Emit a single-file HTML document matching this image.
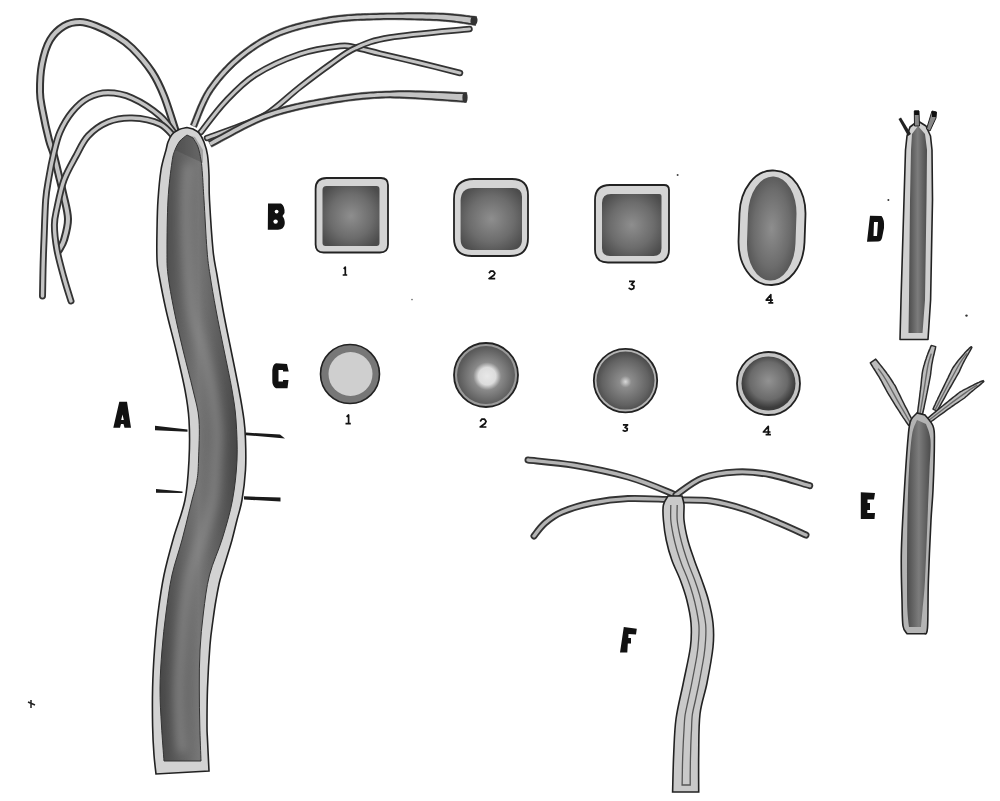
<!DOCTYPE html>
<html><head><meta charset="utf-8"><style>
html,body{margin:0;padding:0;background:#fff;width:1000px;height:801px;overflow:hidden;font-family:"Liberation Sans",sans-serif}
svg{display:block}
</style></head><body>
<svg width="1000" height="801" viewBox="0 0 1000 801">

<defs>
 <linearGradient id="gA" x1="0" y1="0" x2="1" y2="0">
  <stop offset="0" stop-color="#474747"/><stop offset="0.5" stop-color="#767676"/><stop offset="1" stop-color="#474747"/>
 </linearGradient>
 <radialGradient id="gB" cx="0.5" cy="0.5" r="0.62">
  <stop offset="0" stop-color="#8e8e8e"/><stop offset="0.6" stop-color="#6c6c6c"/><stop offset="1" stop-color="#4c4c4c"/>
 </radialGradient>
 <radialGradient id="gC2" cx="0.52" cy="0.52" r="0.5">
  <stop offset="0" stop-color="#e8e8e8"/><stop offset="0.3" stop-color="#dcdcdc"/><stop offset="0.48" stop-color="#8a8a8a"/><stop offset="1" stop-color="#5a5a5a"/>
 </radialGradient>
 <radialGradient id="gC3" cx="0.5" cy="0.52" r="0.5">
  <stop offset="0" stop-color="#d8d8d8"/><stop offset="0.2" stop-color="#8c8c8c"/><stop offset="0.8" stop-color="#626262"/><stop offset="1" stop-color="#4e4e4e"/>
 </radialGradient>
 <radialGradient id="gC4" cx="0.5" cy="0.45" r="0.5">
  <stop offset="0" stop-color="#929292"/><stop offset="0.7" stop-color="#6a6a6a"/><stop offset="1" stop-color="#3c3c3c"/>
 </radialGradient>
 <linearGradient id="gD" x1="0" y1="0" x2="1" y2="0">
  <stop offset="0" stop-color="#4c4c4c"/><stop offset="0.5" stop-color="#7c7c7c"/><stop offset="1" stop-color="#4c4c4c"/>
 </linearGradient>
 <filter id="blur4" x="-50%" y="-10%" width="200%" height="120%"><feGaussianBlur stdDeviation="4"/></filter>
</defs>

<rect width="1000" height="801" fill="#fff"/>
<path d="M176.0,132.0 C174.0,126.0 168.0,106.0 164.0,96.0 C160.0,86.0 157.3,80.0 152.0,72.0 C146.7,64.0 138.0,54.0 132.0,48.0 C126.0,42.0 122.0,39.7 116.0,36.0 C110.0,32.3 102.0,28.3 96.0,26.0 C90.0,23.7 85.3,22.0 80.0,22.0 C74.7,22.0 69.0,23.0 64.0,26.0 C59.0,29.0 53.7,33.7 50.0,40.0 C46.3,46.3 43.7,55.3 42.0,64.0 C40.3,72.7 39.9,84.3 40.0,92.0 C40.1,99.7 40.9,102.0 42.4,110.0 C43.9,118.0 47.1,132.7 49.0,140.0 C50.9,147.3 51.9,147.8 53.6,154.0 C55.3,160.2 57.6,170.2 59.2,177.0 C60.9,183.8 62.0,188.0 63.5,195.0 C65.0,202.0 67.9,211.5 68.0,219.0 C68.1,226.5 65.5,234.8 64.0,240.0 C62.5,245.2 59.8,248.3 59.0,250.0" fill="none" stroke="#333" stroke-width="8" stroke-linecap="round" stroke-linejoin="round"/>
<path d="M176.0,132.0 C174.0,126.0 168.0,106.0 164.0,96.0 C160.0,86.0 157.3,80.0 152.0,72.0 C146.7,64.0 138.0,54.0 132.0,48.0 C126.0,42.0 122.0,39.7 116.0,36.0 C110.0,32.3 102.0,28.3 96.0,26.0 C90.0,23.7 85.3,22.0 80.0,22.0 C74.7,22.0 69.0,23.0 64.0,26.0 C59.0,29.0 53.7,33.7 50.0,40.0 C46.3,46.3 43.7,55.3 42.0,64.0 C40.3,72.7 39.9,84.3 40.0,92.0 C40.1,99.7 40.9,102.0 42.4,110.0 C43.9,118.0 47.1,132.7 49.0,140.0 C50.9,147.3 51.9,147.8 53.6,154.0 C55.3,160.2 57.6,170.2 59.2,177.0 C60.9,183.8 62.0,188.0 63.5,195.0 C65.0,202.0 67.9,211.5 68.0,219.0 C68.1,226.5 65.5,234.8 64.0,240.0 C62.5,245.2 59.8,248.3 59.0,250.0" fill="none" stroke="#c4c4c4" stroke-width="4" stroke-linecap="round" stroke-linejoin="round"/>
<path d="M177.0,137.0 C174.2,133.5 167.5,122.5 160.0,116.0 C152.5,109.5 140.7,101.9 132.0,98.0 C123.3,94.1 115.3,92.8 108.0,92.8 C100.7,92.8 94.0,94.8 88.0,98.0 C82.0,101.2 76.7,106.3 72.0,112.0 C67.3,117.7 63.1,125.0 60.0,132.0 C56.9,139.0 55.4,146.5 53.6,154.0 C51.8,161.5 50.3,169.3 49.0,177.0 C47.7,184.7 46.5,189.5 45.7,200.0 C44.9,210.5 44.5,228.3 44.0,240.0 C43.5,251.7 43.2,260.7 43.0,270.0 C42.8,279.3 42.6,291.7 42.5,296.0" fill="none" stroke="#333" stroke-width="7" stroke-linecap="round" stroke-linejoin="round"/>
<path d="M177.0,137.0 C174.2,133.5 167.5,122.5 160.0,116.0 C152.5,109.5 140.7,101.9 132.0,98.0 C123.3,94.1 115.3,92.8 108.0,92.8 C100.7,92.8 94.0,94.8 88.0,98.0 C82.0,101.2 76.7,106.3 72.0,112.0 C67.3,117.7 63.1,125.0 60.0,132.0 C56.9,139.0 55.4,146.5 53.6,154.0 C51.8,161.5 50.3,169.3 49.0,177.0 C47.7,184.7 46.5,189.5 45.7,200.0 C44.9,210.5 44.5,228.3 44.0,240.0 C43.5,251.7 43.2,260.7 43.0,270.0 C42.8,279.3 42.6,291.7 42.5,296.0" fill="none" stroke="#c4c4c4" stroke-width="3.4" stroke-linecap="round" stroke-linejoin="round"/>
<path d="M176.0,139.0 C173.3,136.5 167.3,127.5 160.0,124.0 C152.7,120.5 140.7,118.3 132.0,118.0 C123.3,117.7 115.3,119.0 108.0,122.0 C100.7,125.0 93.3,130.3 88.0,136.0 C82.7,141.7 80.0,148.7 76.0,156.0 C72.0,163.3 67.2,171.3 64.0,180.0 C60.8,188.7 58.6,200.5 57.0,208.0 C55.4,215.5 54.4,218.0 54.4,225.0 C54.4,232.0 55.4,241.2 57.0,250.0 C58.6,258.8 61.7,269.5 64.0,278.0 C66.3,286.5 69.8,297.2 71.0,301.0" fill="none" stroke="#333" stroke-width="7" stroke-linecap="round" stroke-linejoin="round"/>
<path d="M176.0,139.0 C173.3,136.5 167.3,127.5 160.0,124.0 C152.7,120.5 140.7,118.3 132.0,118.0 C123.3,117.7 115.3,119.0 108.0,122.0 C100.7,125.0 93.3,130.3 88.0,136.0 C82.7,141.7 80.0,148.7 76.0,156.0 C72.0,163.3 67.2,171.3 64.0,180.0 C60.8,188.7 58.6,200.5 57.0,208.0 C55.4,215.5 54.4,218.0 54.4,225.0 C54.4,232.0 55.4,241.2 57.0,250.0 C58.6,258.8 61.7,269.5 64.0,278.0 C66.3,286.5 69.8,297.2 71.0,301.0" fill="none" stroke="#c4c4c4" stroke-width="3.4" stroke-linecap="round" stroke-linejoin="round"/>
<path d="M196.6,127.4 L197.2,126.1 L197.8,124.5 L198.5,122.7 L199.3,120.7 L200.2,118.5 L201.0,116.3 L202.0,113.8 L203.0,111.4 L204.1,108.8 L205.2,106.2 L206.4,103.7 L207.6,101.1 L208.8,98.7 L210.1,96.3 L211.5,94.0 L212.8,91.9 L214.3,89.8 L215.8,87.7 L217.4,85.6 L219.0,83.4 L220.7,81.3 L222.5,79.2 L224.3,77.1 L226.1,75.0 L228.0,73.0 L229.9,71.0 L231.9,69.0 L233.9,67.0 L235.9,65.1 L238.0,63.2 L240.1,61.4 L242.2,59.6 L244.3,57.9 L246.5,56.2 L248.6,54.5 L250.8,52.9 L253.1,51.2 L255.4,49.7 L257.7,48.1 L260.0,46.6 L262.4,45.2 L264.8,43.7 L267.3,42.4 L269.8,41.0 L272.3,39.7 L274.9,38.5 L277.6,37.3 L280.3,36.1 L283.1,35.0 L285.9,34.0 L288.9,33.0 L291.9,32.0 L295.0,31.1 L298.2,30.2 L301.4,29.3 L304.6,28.5 L307.9,27.8 L311.1,27.0 L314.4,26.3 L317.7,25.7 L321.0,25.0 L324.2,24.4 L327.4,23.9 L330.5,23.4 L333.6,22.9 L336.7,22.5 L339.7,22.1 L342.7,21.7 L345.7,21.5 L348.6,21.2 L351.6,21.0 L354.6,20.8 L357.7,20.6 L360.7,20.5 L363.8,20.4 L366.9,20.3 L370.1,20.2 L373.4,20.1 L376.7,20.0 L380.1,19.9 L383.6,19.8 L387.2,19.7 L391.0,19.7 L394.9,19.7 L398.8,19.8 L402.8,19.8 L406.8,19.9 L410.8,20.0 L414.8,20.1 L418.8,20.2 L422.6,20.3 L426.4,20.4 L430.0,20.5 L433.4,20.7 L436.7,20.8 L439.8,21.0 L442.7,21.2 L445.6,21.4 L448.4,21.7 L451.1,22.0 L453.8,22.3 L456.4,22.6 L458.8,22.9 L461.2,23.3 L463.5,23.6 L465.6,23.9 L467.6,24.2 L469.5,24.5 L471.2,24.8 L472.8,25.1 L474.2,25.3 L475.5,25.5 L476.5,16.5 L475.3,16.4 L474.0,16.3 L472.4,16.1 L470.7,15.9 L468.8,15.6 L466.8,15.4 L464.6,15.1 L462.3,14.8 L459.9,14.5 L457.3,14.2 L454.7,14.0 L451.9,13.7 L449.1,13.5 L446.2,13.3 L443.2,13.1 L440.2,13.0 L437.0,12.9 L433.7,12.8 L430.2,12.7 L426.5,12.7 L422.8,12.6 L418.9,12.6 L414.9,12.6 L410.9,12.6 L406.9,12.6 L402.8,12.7 L398.8,12.7 L394.8,12.9 L390.9,12.9 L387.1,12.9 L383.4,13.0 L379.9,13.1 L376.5,13.2 L373.2,13.3 L369.9,13.4 L366.7,13.5 L363.5,13.6 L360.4,13.7 L357.3,13.8 L354.2,14.0 L351.2,14.2 L348.1,14.4 L345.1,14.7 L342.0,15.0 L338.9,15.3 L335.8,15.7 L332.6,16.1 L329.5,16.6 L326.2,17.2 L323.0,17.7 L319.7,18.4 L316.4,19.0 L313.0,19.7 L309.7,20.4 L306.3,21.1 L303.0,21.9 L299.7,22.7 L296.4,23.6 L293.1,24.5 L289.9,25.5 L286.8,26.5 L283.7,27.6 L280.6,28.7 L277.7,29.9 L274.9,31.1 L272.1,32.3 L269.3,33.6 L266.6,35.0 L264.0,36.4 L261.4,37.8 L258.9,39.3 L256.4,40.9 L253.9,42.4 L251.5,44.0 L249.2,45.7 L246.8,47.4 L244.5,49.1 L242.3,50.8 L240.0,52.6 L237.8,54.4 L235.6,56.2 L233.5,58.1 L231.3,60.1 L229.2,62.1 L227.1,64.1 L225.1,66.2 L223.0,68.3 L221.1,70.5 L219.1,72.6 L217.3,74.8 L215.4,77.0 L213.7,79.2 L212.0,81.4 L210.3,83.7 L208.7,85.9 L207.2,88.1 L205.7,90.5 L204.2,92.9 L202.8,95.5 L201.5,98.1 L200.2,100.8 L199.0,103.5 L197.8,106.1 L196.7,108.8 L195.7,111.3 L194.7,113.8 L193.8,116.1 L193.0,118.2 L192.2,120.2 L191.5,121.9 L190.9,123.4 L190.4,124.6Z" fill="#333" stroke="#333" stroke-width="0.6" stroke-linejoin="round"/>
<path d="M195.1,126.7 L195.6,125.4 L196.3,123.8 L197.0,122.1 L197.7,120.1 L198.6,117.9 L199.5,115.6 L200.4,113.2 L201.4,110.7 L202.5,108.1 L203.7,105.6 L204.8,103.0 L206.1,100.4 L207.3,97.9 L208.7,95.4 L210.0,93.1 L211.4,90.9 L212.9,88.8 L214.4,86.7 L216.0,84.5 L217.7,82.4 L219.4,80.2 L221.2,78.1 L223.0,76.0 L224.9,73.9 L226.8,71.8 L228.7,69.8 L230.7,67.8 L232.7,65.8 L234.8,63.8 L236.9,61.9 L239.0,60.1 L241.1,58.3 L243.2,56.6 L245.4,54.8 L247.6,53.1 L249.8,51.5 L252.1,49.9 L254.4,48.3 L256.7,46.7 L259.1,45.2 L261.5,43.7 L263.9,42.3 L266.4,40.9 L269.0,39.5 L271.6,38.2 L274.2,37.0 L276.9,35.7 L279.6,34.6 L282.5,33.5 L285.4,32.4 L288.4,31.4 L291.4,30.4 L294.6,29.4 L297.7,28.5 L301.0,27.7 L304.2,26.9 L307.5,26.1 L310.8,25.4 L314.1,24.7 L317.4,24.0 L320.6,23.4 L323.9,22.8 L327.1,22.2 L330.3,21.7 L333.4,21.2 L336.5,20.8 L339.5,20.4 L342.5,20.1 L345.5,19.8 L348.5,19.5 L351.5,19.3 L354.5,19.1 L357.6,18.9 L360.6,18.8 L363.7,18.7 L366.9,18.6 L370.1,18.5 L373.3,18.4 L376.6,18.3 L380.0,18.2 L383.6,18.1 L387.2,18.0 L391.0,18.0 L394.9,18.0 L398.8,18.1 L402.8,18.1 L406.8,18.2 L410.9,18.3 L414.8,18.4 L418.8,18.5 L422.6,18.6 L426.4,18.7 L430.0,18.8 L433.5,19.0 L436.8,19.1 L439.9,19.3 L442.8,19.5 L445.7,19.7 L448.5,20.0 L451.3,20.3 L454.0,20.6 L456.5,20.9 L459.0,21.2 L461.4,21.6 L463.7,21.9 L465.8,22.2 L467.8,22.6 L469.7,22.9 L471.4,23.1 L473.0,23.4 L474.4,23.6 L475.7,23.8 L476.3,18.2 L475.1,18.1 L473.8,17.9 L472.2,17.8 L470.5,17.5 L468.6,17.3 L466.6,17.0 L464.4,16.8 L462.1,16.5 L459.7,16.2 L457.1,15.9 L454.5,15.7 L451.8,15.4 L449.0,15.2 L446.1,15.0 L443.1,14.8 L440.1,14.7 L437.0,14.6 L433.7,14.5 L430.2,14.4 L426.5,14.4 L422.7,14.3 L418.9,14.3 L414.9,14.3 L410.9,14.3 L406.9,14.3 L402.8,14.4 L398.8,14.4 L394.8,14.6 L391.0,14.6 L387.2,14.6 L383.5,14.7 L380.0,14.8 L376.6,14.9 L373.2,15.0 L370.0,15.1 L366.8,15.2 L363.6,15.3 L360.5,15.4 L357.4,15.5 L354.3,15.7 L351.3,15.9 L348.3,16.1 L345.2,16.4 L342.2,16.7 L339.1,17.0 L336.0,17.4 L332.9,17.8 L329.7,18.3 L326.5,18.9 L323.3,19.4 L320.0,20.0 L316.7,20.7 L313.4,21.3 L310.1,22.0 L306.7,22.8 L303.4,23.6 L300.1,24.4 L296.8,25.3 L293.6,26.2 L290.4,27.1 L287.3,28.1 L284.2,29.2 L281.3,30.3 L278.4,31.4 L275.5,32.6 L272.8,33.9 L270.1,35.2 L267.4,36.5 L264.8,37.9 L262.3,39.3 L259.7,40.8 L257.3,42.3 L254.9,43.9 L252.5,45.5 L250.1,47.1 L247.8,48.7 L245.6,50.4 L243.3,52.2 L241.1,53.9 L238.9,55.7 L236.7,57.5 L234.6,59.4 L232.5,61.3 L230.4,63.3 L228.3,65.3 L226.3,67.4 L224.3,69.5 L222.3,71.6 L220.4,73.8 L218.6,75.9 L216.8,78.1 L215.0,80.3 L213.3,82.5 L211.7,84.7 L210.1,86.9 L208.6,89.1 L207.1,91.3 L205.7,93.8 L204.3,96.3 L203.0,98.9 L201.8,101.5 L200.5,104.2 L199.4,106.8 L198.3,109.4 L197.3,111.9 L196.3,114.4 L195.4,116.7 L194.6,118.8 L193.8,120.8 L193.1,122.6 L192.5,124.1 L191.9,125.3Z" fill="#c4c4c4"/>
<path d="M201.0,132.0 C205.0,127.0 216.0,111.5 225.0,102.0 C234.0,92.5 242.5,83.0 255.0,75.0 C267.5,67.0 285.8,58.8 300.0,54.0 C314.2,49.2 330.8,47.1 340.0,46.0 C349.2,44.9 348.3,46.2 355.0,47.5 C361.7,48.8 369.2,51.0 380.0,53.6 C390.8,56.2 406.7,59.8 420.0,63.0 C433.3,66.2 453.3,71.3 460.0,73.0" fill="none" stroke="#333" stroke-width="6.5" stroke-linecap="round" stroke-linejoin="round"/>
<path d="M201.0,132.0 C205.0,127.0 216.0,111.5 225.0,102.0 C234.0,92.5 242.5,83.0 255.0,75.0 C267.5,67.0 285.8,58.8 300.0,54.0 C314.2,49.2 330.8,47.1 340.0,46.0 C349.2,44.9 348.3,46.2 355.0,47.5 C361.7,48.8 369.2,51.0 380.0,53.6 C390.8,56.2 406.7,59.8 420.0,63.0 C433.3,66.2 453.3,71.3 460.0,73.0" fill="none" stroke="#c4c4c4" stroke-width="3" stroke-linecap="round" stroke-linejoin="round"/>
<path d="M207.0,138.0 C212.5,136.0 230.0,130.0 240.0,126.0 C250.0,122.0 257.0,120.5 267.0,114.0 C277.0,107.5 289.5,95.2 300.0,87.0 C310.5,78.8 320.8,71.0 330.0,64.5 C339.2,58.0 345.5,52.5 355.5,48.0 C365.5,43.5 371.0,40.7 390.0,37.5 C409.0,34.3 456.2,30.4 469.5,29.0" fill="none" stroke="#333" stroke-width="6.5" stroke-linecap="round" stroke-linejoin="round"/>
<path d="M207.0,138.0 C212.5,136.0 230.0,130.0 240.0,126.0 C250.0,122.0 257.0,120.5 267.0,114.0 C277.0,107.5 289.5,95.2 300.0,87.0 C310.5,78.8 320.8,71.0 330.0,64.5 C339.2,58.0 345.5,52.5 355.5,48.0 C365.5,43.5 371.0,40.7 390.0,37.5 C409.0,34.3 456.2,30.4 469.5,29.0" fill="none" stroke="#c4c4c4" stroke-width="3" stroke-linecap="round" stroke-linejoin="round"/>
<path d="M211.6,147.1 L213.6,146.1 L216.0,144.8 L218.8,143.3 L221.8,141.6 L225.1,139.8 L228.6,137.9 L232.3,135.9 L236.2,133.8 L240.2,131.7 L244.3,129.6 L248.4,127.5 L252.5,125.5 L256.6,123.6 L260.6,121.8 L264.5,120.2 L268.2,118.8 L271.9,117.5 L275.7,116.3 L279.5,115.1 L283.3,114.0 L287.2,112.9 L291.2,111.9 L295.1,110.9 L299.1,110.0 L303.1,109.1 L307.0,108.3 L311.0,107.5 L315.0,106.7 L318.9,106.0 L322.8,105.3 L326.7,104.6 L330.6,104.0 L334.4,103.3 L338.1,102.7 L341.7,102.2 L345.3,101.6 L348.9,101.1 L352.4,100.7 L356.0,100.2 L359.5,99.9 L363.1,99.5 L366.7,99.2 L370.4,98.9 L374.1,98.6 L377.9,98.4 L381.9,98.3 L385.9,98.1 L390.1,98.0 L394.5,98.2 L399.3,98.3 L404.3,98.5 L409.6,98.8 L415.1,99.0 L420.7,99.3 L426.2,99.7 L431.8,100.0 L437.2,100.4 L442.4,100.8 L447.4,101.1 L452.1,101.5 L456.4,101.8 L460.2,102.1 L463.5,102.3 L466.3,102.5 L466.7,92.5 L464.0,92.5 L460.7,92.3 L456.9,92.2 L452.6,92.0 L448.0,91.8 L442.9,91.6 L437.7,91.4 L432.2,91.2 L426.6,91.0 L421.0,90.8 L415.4,90.7 L409.9,90.6 L404.5,90.6 L399.3,90.6 L394.5,90.7 L389.9,91.0 L385.7,91.1 L381.6,91.3 L377.6,91.4 L373.7,91.7 L369.9,91.9 L366.1,92.2 L362.4,92.5 L358.8,92.9 L355.2,93.3 L351.6,93.7 L348.0,94.2 L344.3,94.7 L340.7,95.2 L337.0,95.8 L333.2,96.4 L329.4,97.0 L325.5,97.7 L321.6,98.4 L317.7,99.1 L313.7,99.9 L309.7,100.6 L305.6,101.4 L301.6,102.3 L297.5,103.2 L293.5,104.1 L289.5,105.1 L285.4,106.1 L281.5,107.2 L277.5,108.4 L273.5,109.6 L269.7,110.9 L265.8,112.2 L261.9,113.7 L257.8,115.4 L253.7,117.2 L249.5,119.2 L245.3,121.2 L241.1,123.3 L237.0,125.5 L232.9,127.6 L229.0,129.7 L225.3,131.7 L221.7,133.7 L218.4,135.5 L215.4,137.2 L212.7,138.6 L210.4,139.9 L208.4,140.9Z" fill="#333" stroke="#333" stroke-width="0.6" stroke-linejoin="round"/>
<path d="M210.8,145.6 L212.8,144.6 L215.2,143.3 L217.9,141.8 L221.0,140.1 L224.3,138.3 L227.8,136.4 L231.5,134.4 L235.4,132.3 L239.4,130.2 L243.5,128.1 L247.6,126.0 L251.8,124.0 L255.9,122.1 L259.9,120.3 L263.8,118.6 L267.6,117.2 L271.4,115.9 L275.2,114.6 L279.0,113.4 L282.9,112.3 L286.8,111.3 L290.8,110.2 L294.7,109.3 L298.7,108.3 L302.7,107.5 L306.7,106.6 L310.7,105.8 L314.7,105.1 L318.6,104.3 L322.5,103.6 L326.4,102.9 L330.3,102.3 L334.1,101.6 L337.8,101.0 L341.5,100.5 L345.1,99.9 L348.7,99.4 L352.2,99.0 L355.8,98.6 L359.3,98.2 L362.9,97.8 L366.6,97.5 L370.3,97.2 L374.0,97.0 L377.9,96.7 L381.8,96.6 L385.9,96.4 L390.0,96.3 L394.5,96.5 L399.3,96.6 L404.4,96.8 L409.7,97.1 L415.2,97.3 L420.7,97.7 L426.3,98.0 L431.9,98.3 L437.3,98.7 L442.5,99.1 L447.5,99.4 L452.2,99.8 L456.5,100.1 L460.3,100.4 L463.6,100.6 L466.4,100.8 L466.6,94.2 L463.9,94.1 L460.7,94.0 L456.8,93.9 L452.5,93.7 L447.9,93.5 L442.9,93.3 L437.6,93.1 L432.1,92.9 L426.6,92.7 L420.9,92.5 L415.3,92.4 L409.8,92.3 L404.5,92.3 L399.3,92.3 L394.5,92.4 L390.0,92.7 L385.7,92.8 L381.7,93.0 L377.7,93.1 L373.8,93.4 L370.0,93.6 L366.3,93.9 L362.6,94.2 L359.0,94.6 L355.4,95.0 L351.8,95.4 L348.2,95.9 L344.6,96.4 L340.9,96.9 L337.2,97.5 L333.5,98.1 L329.7,98.7 L325.8,99.4 L321.9,100.1 L318.0,100.8 L314.0,101.5 L310.0,102.3 L306.0,103.1 L301.9,104.0 L297.9,104.8 L293.9,105.8 L289.9,106.7 L285.9,107.8 L281.9,108.9 L278.0,110.0 L274.1,111.2 L270.2,112.5 L266.4,113.8 L262.5,115.3 L258.5,117.0 L254.4,118.8 L250.2,120.7 L246.0,122.8 L241.9,124.8 L237.7,127.0 L233.7,129.1 L229.8,131.2 L226.1,133.2 L222.5,135.2 L219.2,137.0 L216.2,138.6 L213.5,140.1 L211.1,141.4 L209.2,142.4Z" fill="#c4c4c4"/>
<ellipse cx="474" cy="20.6" rx="3.5" ry="4.5" transform="rotate(8 474 20.6)" fill="#333"/>
<ellipse cx="465" cy="97.6" rx="2.6" ry="5" fill="#333"/>
<path d="M187.0,127.5 C185.7,127.8 181.5,128.3 179.0,129.5 C176.5,130.7 173.8,132.4 172.0,134.5 C170.2,136.6 169.0,139.4 168.0,142.0 C167.0,144.6 167.2,145.3 166.0,150.0 C164.8,154.7 162.3,161.7 161.0,170.0 C159.7,178.3 158.7,190.0 158.0,200.0 C157.3,210.0 157.2,220.0 157.0,230.0 C156.8,240.0 156.7,252.5 157.0,260.0 C157.3,267.5 157.5,266.7 159.0,275.0 C160.5,283.3 163.2,297.5 166.0,310.0 C168.8,322.5 172.8,336.7 176.0,350.0 C179.2,363.3 182.8,378.3 185.0,390.0 C187.2,401.7 188.3,408.3 189.0,420.0 C189.7,431.7 189.7,446.7 189.0,460.0 C188.3,473.3 187.6,487.0 185.0,500.0 C182.4,513.0 177.0,525.5 173.5,538.0 C170.0,550.5 166.6,562.5 164.0,575.0 C161.4,587.5 159.6,600.5 158.0,613.0 C156.4,625.5 155.4,637.5 154.5,650.0 C153.6,662.5 152.9,675.3 152.6,688.0 C152.3,700.7 152.4,714.8 152.6,726.0 C152.8,737.2 153.4,747.0 154.0,755.0 C154.6,763.0 155.7,770.8 156.0,774.0 L209.0,771.0 C208.8,765.8 207.8,747.5 207.5,740.0 C207.2,732.5 207.0,734.7 207.0,726.0 C207.0,717.3 207.0,701.5 207.5,688.0 C208.0,674.5 209.1,656.3 210.0,645.0 C210.9,633.7 212.0,627.5 213.0,620.0 C214.0,612.5 214.8,606.7 216.0,600.0 C217.2,593.3 218.3,586.7 220.0,580.0 C221.7,573.3 224.0,566.7 226.0,560.0 C228.0,553.3 230.2,546.7 232.0,540.0 C233.8,533.3 235.3,526.7 237.0,520.0 C238.7,513.3 240.6,508.3 242.0,500.0 C243.4,491.7 244.9,480.0 245.5,470.0 C246.1,460.0 245.8,448.3 245.5,440.0 C245.2,431.7 245.1,428.3 244.0,420.0 C242.9,411.7 241.2,401.7 239.0,390.0 C236.8,378.3 233.7,363.3 231.0,350.0 C228.3,336.7 225.3,322.5 223.0,310.0 C220.7,297.5 218.7,285.0 217.0,275.0 C215.3,265.0 214.2,262.5 213.0,250.0 C211.8,237.5 210.2,212.5 209.5,200.0 C208.8,187.5 209.3,182.5 209.0,175.0 C208.7,167.5 208.3,160.5 207.5,155.0 C206.7,149.5 205.4,145.7 204.0,142.0 C202.6,138.3 200.8,135.2 199.0,133.0 C197.2,130.8 194.0,129.7 193.0,129.0Z" fill="#d2d2d2" stroke="#222" stroke-width="1.6"/>
<path d="M187.0,135.0 C185.8,136.0 182.0,138.5 180.0,141.0 C178.0,143.5 176.3,146.5 175.0,150.0 C173.7,153.5 173.2,153.7 172.0,162.0 C170.8,170.3 168.8,185.3 168.0,200.0 C167.2,214.7 167.0,237.5 167.0,250.0 C167.0,262.5 166.8,265.0 168.0,275.0 C169.2,285.0 171.5,297.5 174.0,310.0 C176.5,322.5 179.8,336.7 183.0,350.0 C186.2,363.3 190.3,378.3 193.0,390.0 C195.7,401.7 198.1,408.3 199.0,420.0 C199.9,431.7 198.8,450.0 198.5,460.0 C198.2,470.0 198.1,473.3 197.0,480.0 C195.9,486.7 194.5,490.0 192.0,500.0 C189.5,510.0 185.3,527.5 182.0,540.0 C178.7,552.5 174.7,562.8 172.0,575.0 C169.3,587.2 167.7,600.5 166.0,613.0 C164.3,625.5 163.0,637.5 162.0,650.0 C161.0,662.5 160.1,675.3 160.0,688.0 C159.9,700.7 160.8,713.8 161.5,726.0 C162.2,738.2 163.6,755.2 164.0,761.0 L201.0,761.0 C200.8,755.2 200.1,738.2 199.8,726.0 C199.5,713.8 199.3,700.7 199.3,688.0 C199.3,675.3 199.3,662.5 200.0,650.0 C200.7,637.5 201.8,625.5 203.4,613.0 C205.0,600.5 206.3,587.5 209.5,575.0 C212.7,562.5 218.7,550.5 222.5,538.0 C226.3,525.5 230.1,513.0 232.5,500.0 C234.9,487.0 236.4,473.3 237.0,460.0 C237.6,446.7 236.8,431.7 236.0,420.0 C235.2,408.3 234.0,401.7 232.0,390.0 C230.0,378.3 226.7,363.3 224.0,350.0 C221.3,336.7 218.3,322.5 216.0,310.0 C213.7,297.5 211.5,285.0 210.0,275.0 C208.5,265.0 208.0,262.5 207.0,250.0 C206.0,237.5 204.8,212.5 204.0,200.0 C203.2,187.5 203.0,181.7 202.5,175.0 C202.0,168.3 201.8,164.7 201.0,160.0 C200.2,155.3 199.3,150.7 198.0,147.0 C196.7,143.3 193.8,139.5 193.0,138.0Z" fill="url(#gA)" stroke="#333" stroke-width="1"/>
<path d="M188.0,168.0 C187.7,173.3 186.2,186.3 186.0,200.0 C185.8,213.7 186.0,231.7 187.0,250.0 C188.0,268.3 189.3,293.3 192.0,310.0 C194.7,326.7 199.7,336.7 203.0,350.0 C206.3,363.3 209.7,376.7 212.0,390.0 C214.3,403.3 216.3,418.3 217.0,430.0 C217.7,441.7 216.7,448.3 216.0,460.0 C215.3,471.7 215.3,487.0 213.0,500.0 C210.7,513.0 205.8,525.5 202.0,538.0 C198.2,550.5 193.0,562.5 190.0,575.0 C187.0,587.5 185.5,600.5 184.0,613.0 C182.5,625.5 181.8,637.5 181.0,650.0 C180.2,662.5 179.2,675.3 179.0,688.0 C178.8,700.7 179.5,716.0 180.0,726.0 C180.5,736.0 181.7,744.3 182.0,748.0" fill="none" stroke="#909090" stroke-width="10" stroke-linecap="round" filter="url(#blur4)" opacity="0.6"/>
<path d="M175,150 L203,163 L203,150 L195,137 L187,135 L179,141 Z" fill="#3c3c3c" opacity="0.3"/>
<path d="M155,425.8 L187.5,429.6 L187.5,431.8 L155,430.2 Z" fill="#1a1a1a"/>
<path d="M246,432.6 L280,434.6 L285,438.4 L246,435.2 Z" fill="#1a1a1a"/>
<path d="M156,489 L182.5,491.6 L182.5,493 L156,492.8 Z" fill="#1a1a1a"/>
<path d="M244,496.3 L280.5,497.5 L280.5,501.5 L244,499.5 Z" fill="#1a1a1a"/>
<path d="M326.6,178 L381,178 Q388,178 388,185 L388,244.5 Q388,252.5 380,252.5 L323.6,252.5 Q315.6,252.5 315.6,244.5 L315.6,189 Q315.6,178 326.6,178Z" fill="#d4d4d4" stroke="#222" stroke-width="1.8"/>
<path d="M326.5,186 L376.5,186 Q379.5,186 379.5,189 L379.5,243 Q379.5,246 376.5,246 L325.5,246 Q322.5,246 322.5,243 L322.5,190 Q322.5,186 326.5,186Z" fill="url(#gB)"/>
<path d="M474,179 L512,179 Q528,179 528,195 L528,238 Q528,256 510,256 L472,256 Q454,256 454,238 L454,199 Q454,179 474,179Z" fill="#d4d4d4" stroke="#222" stroke-width="1.8"/>
<path d="M473.6,188 L513,188 Q522,188 522,197 L522,239 Q522,250 511,250 L471.6,250 Q460.6,250 460.6,239 L460.6,201 Q460.6,188 473.6,188Z" fill="url(#gB)"/>
<path d="M610,185 L664,185 Q669,185 669,190 L669,249.5 Q669,262.5 656,262.5 L608,262.5 Q595,262.5 595,249.5 L595,200 Q595,185 610,185Z" fill="#d4d4d4" stroke="#222" stroke-width="1.8"/>
<path d="M611,194 L659.5,194 Q661.5,194 661.5,196 L661.5,248 Q661.5,256 653.5,256 L610,256 Q602,256 602,248 L602,203 Q602,194 611,194Z" fill="url(#gB)"/>
<rect x="739" y="170.5" width="66" height="114.5" rx="32" ry="44" transform="rotate(2 772 228)" fill="#d4d4d4" stroke="#222" stroke-width="1.8"/>
<rect x="747.5" y="176.5" width="48.5" height="104" rx="24" ry="38" transform="rotate(2 772 228)" fill="url(#gB)"/>
<circle cx="350" cy="374" r="29.5" fill="#777" stroke="#222" stroke-width="1.6"/>
<circle cx="350.5" cy="374" r="22" fill="#cfcfcf"/>
<circle cx="486" cy="375" r="32" fill="#9a9a9a" stroke="#222" stroke-width="1.8"/>
<circle cx="486" cy="375" r="29" fill="url(#gC2)"/>
<circle cx="625.5" cy="380.6" r="31.7" fill="#b4b4b4" stroke="#222" stroke-width="1.8"/>
<circle cx="625.5" cy="380.6" r="29" fill="url(#gC3)"/>
<circle cx="768.5" cy="383.5" r="31.5" fill="#c4c4c4" stroke="#222" stroke-width="1.8"/>
<circle cx="768.5" cy="383.5" r="27" fill="url(#gC4)"/>
<path d="M910.0,127.0 L907.0,136.0 L905.5,150.0 L904.0,200.0 L901.0,300.0 L900.0,339.5 L928.0,339.5 L930.6,300.0 L932.5,200.0 L932.0,150.0 L930.5,136.0 L926.0,126.0 L918.0,121.0Z" fill="#d0d0d0" stroke="#222" stroke-width="1.6" stroke-linejoin="round"/>
<path d="M918.0,126.0 L912.0,134.0 L911.0,150.0 L910.0,200.0 L909.0,300.0 L908.5,333.0 L922.5,333.0 L925.0,300.0 L926.5,200.0 L927.0,150.0 L925.0,134.0Z" fill="url(#gD)"/>
<path d="M898.5,119 L901,117.5 L911,134 L908,136 Z" fill="#222"/>
<path d="M914.3,111 L919,111 L919.5,126 L914.5,126 Z" fill="#888" stroke="#222" stroke-width="1"/>
<path d="M914.3,110.5 L919,110.5 L919,115 L914.3,115 Z" fill="#111"/>
<path d="M932,111 L936.5,112 L936,118 L930,131 L926.5,129 Z" fill="#888" stroke="#222" stroke-width="1"/>
<path d="M932,111 L936.5,112 L936,117 L932,117 Z" fill="#111"/>
<path d="M913.4,422.6 L913.0,421.7 L912.4,420.5 L911.8,419.2 L911.0,417.7 L910.2,416.1 L909.3,414.3 L908.4,412.5 L907.5,410.6 L906.5,408.7 L905.5,406.8 L904.5,404.9 L903.6,403.0 L902.6,401.0 L901.6,399.0 L900.6,396.9 L899.5,394.7 L898.4,392.5 L897.3,390.2 L896.2,387.9 L895.1,385.7 L893.7,383.6 L892.4,381.5 L891.1,379.5 L889.9,377.6 L888.6,375.8 L887.2,373.9 L885.9,372.0 L884.5,370.2 L883.1,368.4 L881.8,366.7 L880.5,365.1 L879.3,363.6 L878.2,362.2 L877.2,361.0 L876.4,360.0 L875.7,359.1 L870.3,362.9 L870.9,363.8 L871.6,365.0 L872.4,366.3 L873.3,367.8 L874.4,369.5 L875.4,371.2 L876.6,373.0 L877.7,374.8 L878.9,376.7 L880.0,378.6 L881.1,380.5 L882.1,382.4 L883.1,384.3 L884.2,386.3 L885.3,388.4 L886.4,390.5 L887.6,392.7 L888.9,394.8 L890.2,396.9 L891.5,399.1 L892.8,401.2 L894.0,403.2 L895.2,405.2 L896.4,407.0 L897.6,408.8 L898.8,410.7 L900.0,412.5 L901.1,414.3 L902.3,416.1 L903.4,417.8 L904.5,419.4 L905.5,420.9 L906.4,422.3 L907.3,423.5 L908.0,424.5 L908.6,425.4Z" fill="#bcbcbc" stroke="#2a2a2a" stroke-width="1.5" stroke-linejoin="round"/>
<path d="M911.0,424.0 C909.2,420.8 904.2,412.3 900.0,405.0 C895.8,397.7 889.6,386.1 886.0,380.0 C882.4,373.9 879.5,370.5 878.2,368.6" fill="none" stroke="#6a6a6a" stroke-width="1.4"/>
<path d="M922.5,414.4 L922.7,413.3 L923.1,411.8 L923.4,410.2 L923.9,408.3 L924.3,406.2 L924.7,404.1 L925.2,401.8 L925.7,399.5 L926.2,397.2 L926.6,394.9 L927.1,392.7 L927.5,390.6 L927.9,388.5 L928.3,386.4 L928.8,384.2 L929.2,382.1 L929.6,379.9 L930.0,377.8 L930.4,375.7 L930.7,373.6 L930.9,371.5 L931.2,369.5 L931.4,367.6 L931.6,365.8 L931.9,364.0 L932.3,362.1 L932.6,360.3 L933.0,358.4 L933.4,356.6 L933.9,354.8 L934.3,353.1 L934.6,351.5 L935.0,350.1 L935.3,348.8 L935.5,347.6 L935.7,346.6 L931.3,345.4 L931.0,346.2 L930.5,347.2 L930.0,348.5 L929.4,349.9 L928.8,351.4 L928.1,353.1 L927.5,354.8 L926.8,356.6 L926.2,358.5 L925.5,360.4 L924.9,362.3 L924.4,364.2 L923.8,366.1 L923.3,368.1 L922.8,370.2 L922.4,372.3 L922.1,374.4 L921.9,376.6 L921.6,378.8 L921.4,381.0 L921.2,383.1 L921.0,385.3 L920.7,387.4 L920.5,389.4 L920.2,391.5 L919.9,393.8 L919.7,396.1 L919.4,398.4 L919.1,400.8 L918.8,403.1 L918.5,405.3 L918.2,407.3 L918.0,409.3 L917.8,411.0 L917.6,412.4 L917.5,413.6Z" fill="#bcbcbc" stroke="#2a2a2a" stroke-width="1.5" stroke-linejoin="round"/>
<path d="M920.0,414.0 C920.7,410.0 922.7,398.2 924.0,390.0 C925.3,381.8 926.8,371.1 928.0,365.0 C929.2,358.9 930.8,355.5 931.3,353.6" fill="none" stroke="#6a6a6a" stroke-width="1.4"/>
<path d="M937.0,411.0 L937.7,409.9 L938.6,408.3 L939.6,406.6 L940.7,404.6 L941.9,402.4 L943.2,400.1 L944.5,397.8 L945.8,395.4 L947.1,393.0 L948.4,390.7 L949.6,388.5 L950.8,386.5 L951.9,384.6 L953.0,382.6 L954.1,380.7 L955.2,378.8 L956.2,377.0 L957.3,375.1 L958.3,373.3 L959.3,371.6 L960.1,369.7 L960.9,367.9 L961.7,366.2 L962.5,364.5 L963.3,362.9 L964.2,361.2 L965.1,359.5 L966.0,357.9 L966.9,356.2 L967.9,354.6 L968.7,353.1 L969.6,351.7 L970.3,350.4 L971.0,349.2 L971.5,348.2 L971.9,347.3 L971.1,346.7 L970.4,347.3 L969.5,348.1 L968.6,349.1 L967.5,350.1 L966.3,351.3 L965.1,352.6 L963.9,354.0 L962.6,355.4 L961.3,356.9 L960.0,358.4 L958.7,359.9 L957.5,361.5 L956.4,363.0 L955.2,364.6 L954.0,366.3 L952.8,368.0 L951.8,369.8 L950.9,371.7 L950.0,373.7 L949.0,375.6 L948.1,377.6 L947.1,379.6 L946.2,381.5 L945.2,383.5 L944.2,385.6 L943.1,387.9 L941.9,390.3 L940.7,392.7 L939.5,395.2 L938.3,397.6 L937.2,400.0 L936.1,402.2 L935.2,404.3 L934.3,406.1 L933.6,407.7 L933.0,409.0Z" fill="#bcbcbc" stroke="#2a2a2a" stroke-width="1.5" stroke-linejoin="round"/>
<path d="M935.0,410.0 C937.2,405.8 943.8,392.8 948.0,385.0 C952.2,377.2 956.9,368.3 960.0,363.0 C963.1,357.7 965.8,355.0 966.9,353.4" fill="none" stroke="#6a6a6a" stroke-width="1.4"/>
<path d="M929.4,422.8 L930.5,422.0 L931.9,421.0 L933.6,419.8 L935.4,418.5 L937.4,417.0 L939.5,415.4 L941.7,413.9 L943.9,412.3 L946.1,410.7 L948.1,409.2 L950.1,407.8 L951.9,406.5 L953.6,405.4 L955.2,404.2 L956.9,403.1 L958.4,402.1 L960.0,401.0 L961.5,400.0 L963.0,399.0 L964.5,398.0 L965.8,396.8 L967.1,395.7 L968.4,394.5 L969.6,393.4 L970.9,392.3 L972.3,391.1 L973.7,390.0 L975.1,388.8 L976.4,387.7 L977.8,386.6 L979.1,385.6 L980.3,384.6 L981.4,383.7 L982.3,382.8 L983.1,382.1 L983.8,381.4 L983.2,380.6 L982.4,380.9 L981.4,381.3 L980.2,381.8 L978.9,382.4 L977.5,383.0 L976.0,383.7 L974.4,384.5 L972.8,385.3 L971.2,386.1 L969.5,387.0 L967.9,387.8 L966.4,388.6 L964.8,389.4 L963.3,390.2 L961.7,391.1 L960.2,391.9 L958.7,393.0 L957.3,394.1 L955.8,395.3 L954.3,396.5 L952.8,397.7 L951.3,398.9 L949.7,400.2 L948.1,401.5 L946.4,402.9 L944.5,404.4 L942.5,406.0 L940.4,407.7 L938.3,409.5 L936.2,411.2 L934.2,412.8 L932.3,414.4 L930.5,415.9 L929.0,417.2 L927.6,418.3 L926.6,419.2Z" fill="#bcbcbc" stroke="#2a2a2a" stroke-width="1.5" stroke-linejoin="round"/>
<path d="M928.0,421.0 C931.7,418.2 943.3,409.0 950.0,404.0 C956.7,399.0 963.5,394.2 968.0,391.0 C972.5,387.8 975.8,386.0 977.3,385.0" fill="none" stroke="#6a6a6a" stroke-width="1.4"/>
<path d="M917.0,413.0 C916.0,414.2 912.4,416.7 911.0,420.0 C909.6,423.3 909.5,423.0 908.5,433.0 C907.5,443.0 906.2,460.5 905.0,480.0 C903.8,499.5 901.9,530.0 901.4,550.0 C900.9,570.0 901.7,587.3 902.0,600.0 C902.3,612.7 902.2,620.4 903.0,626.0 C903.8,631.6 906.3,632.4 907.0,633.7 L924.0,633.7 C924.6,632.8 926.8,637.0 927.5,628.0 C928.2,619.0 927.8,598.0 928.4,580.0 C929.0,562.0 930.2,535.0 931.0,520.0 C931.8,505.0 932.4,503.3 933.0,490.0 C933.6,476.7 934.4,450.7 934.4,440.0 C934.4,429.3 934.6,430.2 933.0,426.0 C931.4,421.8 926.3,416.8 925.0,415.0Z" fill="#b4b4b4" stroke="#222" stroke-width="1.6"/>
<path d="M917.0,420.0 C916.2,422.5 913.3,426.7 912.0,435.0 C910.7,443.3 909.8,455.8 909.0,470.0 C908.2,484.2 907.7,501.7 907.4,520.0 C907.1,538.3 907.0,565.0 907.0,580.0 C907.0,595.0 907.1,602.2 907.4,610.0 C907.7,617.8 908.7,624.2 909.0,627.0 L921.0,627.0 C921.2,624.2 921.8,617.8 922.5,610.0 C923.2,602.2 924.2,595.0 925.0,580.0 C925.8,565.0 926.8,538.3 927.5,520.0 C928.2,501.7 929.0,483.3 929.5,470.0 C930.0,456.7 931.1,447.7 930.5,440.0 C929.9,432.3 926.8,426.7 926.0,424.0Z" fill="url(#gD)"/>
<path d="M528.0,460.0 C535.7,460.9 557.3,462.5 574.0,465.3 C590.7,468.1 611.8,472.4 628.0,477.0 C644.2,481.6 663.0,489.7 671.0,493.0 C679.0,496.3 675.2,496.3 676.0,497.0" fill="none" stroke="#333" stroke-width="7" stroke-linecap="round" stroke-linejoin="round"/>
<path d="M528.0,460.0 C535.7,460.9 557.3,462.5 574.0,465.3 C590.7,468.1 611.8,472.4 628.0,477.0 C644.2,481.6 663.0,489.7 671.0,493.0 C679.0,496.3 675.2,496.3 676.0,497.0" fill="none" stroke="#b4b4b4" stroke-width="3.4" stroke-linecap="round" stroke-linejoin="round"/>
<path d="M534.0,536.0 C535.8,533.8 540.3,527.0 545.0,523.0 C549.7,519.0 554.2,515.3 562.0,512.0 C569.8,508.7 581.0,505.2 592.0,503.0 C603.0,500.8 615.1,499.2 628.0,498.6 C640.9,498.0 661.4,499.4 669.4,499.5 C677.4,499.6 674.9,499.1 676.0,499.0" fill="none" stroke="#333" stroke-width="7" stroke-linecap="round" stroke-linejoin="round"/>
<path d="M534.0,536.0 C535.8,533.8 540.3,527.0 545.0,523.0 C549.7,519.0 554.2,515.3 562.0,512.0 C569.8,508.7 581.0,505.2 592.0,503.0 C603.0,500.8 615.1,499.2 628.0,498.6 C640.9,498.0 661.4,499.4 669.4,499.5 C677.4,499.6 674.9,499.1 676.0,499.0" fill="none" stroke="#b4b4b4" stroke-width="3.4" stroke-linecap="round" stroke-linejoin="round"/>
<path d="M676.0,495.0 C680.4,492.2 692.4,481.8 702.5,478.0 C712.6,474.2 725.2,472.6 736.5,472.0 C747.8,471.4 758.3,472.4 770.5,474.7 C782.7,477.0 803.2,483.9 809.7,485.7" fill="none" stroke="#333" stroke-width="7" stroke-linecap="round" stroke-linejoin="round"/>
<path d="M676.0,495.0 C680.4,492.2 692.4,481.8 702.5,478.0 C712.6,474.2 725.2,472.6 736.5,472.0 C747.8,471.4 758.3,472.4 770.5,474.7 C782.7,477.0 803.2,483.9 809.7,485.7" fill="none" stroke="#b4b4b4" stroke-width="3.4" stroke-linecap="round" stroke-linejoin="round"/>
<path d="M678.0,500.0 C683.5,500.2 699.8,499.4 711.0,501.0 C722.2,502.6 733.7,505.8 745.0,509.5 C756.3,513.2 768.8,518.8 779.0,523.0 C789.2,527.2 801.5,533.0 806.0,535.0" fill="none" stroke="#333" stroke-width="7" stroke-linecap="round" stroke-linejoin="round"/>
<path d="M678.0,500.0 C683.5,500.2 699.8,499.4 711.0,501.0 C722.2,502.6 733.7,505.8 745.0,509.5 C756.3,513.2 768.8,518.8 779.0,523.0 C789.2,527.2 801.5,533.0 806.0,535.0" fill="none" stroke="#b4b4b4" stroke-width="3.4" stroke-linecap="round" stroke-linejoin="round"/>
<path d="M668.0,496.0 C667.2,497.5 664.2,501.0 663.4,505.0 C662.6,509.0 662.9,514.2 663.4,520.0 C663.9,525.8 664.8,533.3 666.2,540.0 C667.6,546.7 669.4,553.3 671.8,560.0 C674.1,566.7 677.8,573.3 680.3,580.0 C682.8,586.7 685.0,592.8 686.8,600.0 C688.6,607.2 690.4,615.2 691.0,623.0 C691.6,630.8 691.7,637.0 690.4,647.0 C689.1,657.0 685.7,671.0 683.3,683.0 C680.9,695.0 677.6,707.2 676.0,719.0 C674.4,730.8 674.3,741.8 673.7,754.0 C673.1,766.2 672.8,785.7 672.6,792.0 L698.7,792.0 C698.7,785.7 698.5,767.0 698.7,754.0 C698.9,741.0 698.6,725.8 700.0,714.0 C701.4,702.2 704.8,694.2 707.0,683.0 C709.2,671.8 712.0,657.0 713.0,647.0 C714.0,637.0 713.8,630.8 713.0,623.0 C712.2,615.2 710.3,607.2 708.4,600.0 C706.5,592.8 704.1,586.7 701.8,580.0 C699.4,573.3 696.6,566.7 694.3,560.0 C692.0,553.3 689.5,546.7 687.8,540.0 C686.1,533.3 684.6,525.8 684.0,520.0 C683.4,514.2 684.3,509.0 684.0,505.0 C683.7,501.0 682.3,497.5 682.0,496.0Z" fill="#c9c9c9" stroke="#222" stroke-width="1.6"/>
<path d="M670.8,505.0 C670.8,507.5 670.4,515.0 670.8,520.0 C671.2,525.0 672.2,530.0 673.2,535.0 C674.2,540.0 675.5,545.0 676.9,550.0 C678.4,555.0 680.1,560.0 681.9,565.0 C683.8,570.0 686.2,575.0 688.0,580.0 C689.9,585.0 691.5,590.0 692.9,595.0 C694.3,600.0 695.5,605.0 696.5,610.0 C697.5,615.0 698.5,620.0 698.9,625.0 C699.3,630.0 699.0,635.0 698.6,640.0 C698.3,645.0 697.8,650.0 697.0,655.0 C696.3,660.0 695.2,665.0 694.3,670.0 C693.3,675.0 692.4,680.0 691.4,685.0 C690.4,690.0 689.3,695.0 688.2,700.0 C687.2,705.0 685.9,710.0 685.1,715.0 C684.4,720.0 684.3,725.0 684.0,730.0 C683.7,735.0 683.4,740.0 683.2,745.0 C683.0,750.0 682.7,755.0 682.6,760.0 C682.4,765.0 682.4,770.8 682.3,775.0 C682.2,779.2 682.2,783.3 682.1,785.0 L690.2,785.0 C690.2,783.3 690.2,779.2 690.2,775.0 C690.3,770.8 690.3,765.0 690.4,760.0 C690.5,755.0 690.7,750.0 690.8,745.0 C691.0,740.0 691.2,735.0 691.5,730.0 C691.7,725.0 691.7,720.0 692.3,715.0 C693.0,710.0 694.4,705.0 695.5,700.0 C696.5,695.0 697.7,690.0 698.7,685.0 C699.7,680.0 700.6,675.0 701.5,670.0 C702.4,665.0 703.4,660.0 704.1,655.0 C704.8,650.0 705.3,645.0 705.6,640.0 C705.9,635.0 706.1,630.0 705.7,625.0 C705.3,620.0 704.2,615.0 703.2,610.0 C702.2,605.0 701.0,600.0 699.6,595.0 C698.2,590.0 696.5,585.0 694.7,580.0 C692.9,575.0 690.7,570.0 688.8,565.0 C687.0,560.0 685.3,555.0 683.8,550.0 C682.3,545.0 680.9,540.0 679.8,535.0 C678.7,530.0 677.6,525.0 677.2,520.0 C676.8,515.0 677.2,507.5 677.2,505.0" fill="none" stroke="#555" stroke-width="1.3"/>
<path d="M119.3,401.8 L127,401.8 L131,427.8 L124.5,427.8 L123.5,424 L121,424 L120,427.8 L113.3,427.8 Z M122.5,414.5 L121.2,420 L123.8,420 Z" fill="#111" fill-rule="evenodd"/>
<path d="M268,203.5 L281,203.5 Q285,206 284.5,213 L282.5,216 Q285,219 284.7,224 Q284,229.7 278,229.7 L267.8,229.7 Z" fill="#111"/>
<circle cx="276.6" cy="211.6" r="1.9" fill="#fff"/><circle cx="275.6" cy="221.6" r="2.2" fill="#fff"/>
<path d="M276,363.3 L287,364 L288.7,371.5 L283,371.5 L283,370 L278.5,370 L278.5,381.5 L283,381.5 L283,380 L288.5,380 L287.5,388.3 L276,388.3 Q272,386 272.3,380 L272.3,370 Q273,364 276,363.3 Z" fill="#111"/>
<path d="M870,215.8 L881.5,216 Q884.5,219 884,228 L882,238 Q881,241.5 878,241.6 L867,241.8 Z M874,222 L878,222 L877,236 L873.5,236 Z" fill="#111" fill-rule="evenodd"/>
<path d="M860.8,492.3 L875,493 L874,499.5 L867.5,499.5 L867.5,503 L870,503 L870,510 L867.3,510 L867.3,513 L875,513 L874.5,519 L860.8,519 Z" fill="#111"/>
<path d="M623.8,627 L636.8,628.8 L636,634.5 L628.5,634 L628.3,638 L631,638 L631,643.5 L627.8,643.5 L627.3,652.5 L620,652.5 Z" fill="#111"/>
<path d="M343.7,268.8 L345.3,267.2 L345.3,275.2 M342.7,275.0 L347.2,275.0 " fill="none" stroke="#111" stroke-width="1.7" stroke-linejoin="round" stroke-linecap="butt"/>
<path d="M489.0,273.3 L490.5,271.2 L493.4,271.2 L494.9,273.3 L493.8,275.3 L489.0,278.6 L495.2,278.6 " fill="none" stroke="#111" stroke-width="1.7" stroke-linejoin="round" stroke-linecap="butt"/>
<path d="M629.0,281.3 L634.3,281.3 L631.3,284.6 L634.0,285.9 L633.7,288.5 L631.3,289.4 L628.6,288.1 " fill="none" stroke="#111" stroke-width="1.7" stroke-linejoin="round" stroke-linecap="butt"/>
<path d="M772.9,300.1 L766.2,300.1 L770.8,294.7 L770.8,303.0 M768.3,302.8 L773.3,302.8 " fill="none" stroke="#111" stroke-width="1.7" stroke-linejoin="round" stroke-linecap="butt"/>
<path d="M346.6,416.8 L348.6,415.0 L348.6,424.0 M345.5,423.7 L350.8,423.7 " fill="none" stroke="#111" stroke-width="1.7" stroke-linejoin="round" stroke-linecap="butt"/>
<path d="M480.2,421.4 L481.7,419.2 L484.6,419.2 L486.1,421.4 L485.0,423.5 L480.2,427.0 L486.4,427.0 " fill="none" stroke="#111" stroke-width="1.7" stroke-linejoin="round" stroke-linecap="butt"/>
<path d="M622.9,424.9 L627.6,424.9 L625.0,427.5 L627.3,428.5 L627.0,430.5 L625.0,431.2 L622.6,430.2 " fill="none" stroke="#111" stroke-width="1.7" stroke-linejoin="round" stroke-linecap="butt"/>
<path d="M770.5,432.0 L763.4,432.0 L768.3,426.4 L768.3,435.0 M765.6,434.7 L770.9,434.7 " fill="none" stroke="#111" stroke-width="1.7" stroke-linejoin="round" stroke-linecap="butt"/>
<circle cx="888.4" cy="200" r="1" fill="#333"/><circle cx="966.5" cy="315.6" r="1.2" fill="#333"/><circle cx="677.6" cy="175" r="1" fill="#444"/><circle cx="412" cy="299.6" r="0.8" fill="#666"/>
<path d="M28,702 L35,705 M31,700 L31,708" stroke="#222" stroke-width="1.5"/>
</svg>
</body></html>
